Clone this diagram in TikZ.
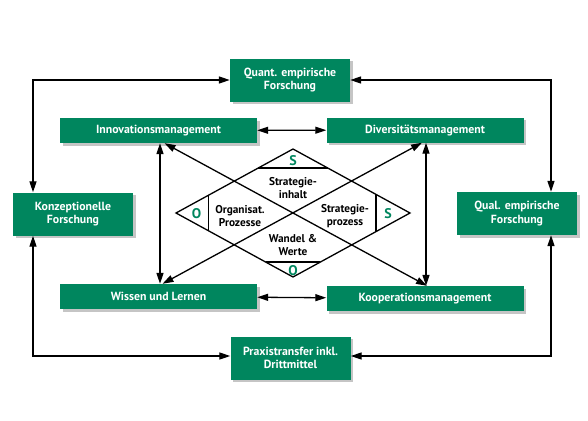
\documentclass[tikz,border=0pt]{standalone}
\usepackage{fontspec}
\setmainfont{PT Sans}
\usetikzlibrary{calc,arrows.meta,shadows}
\definecolor{boxgreen}{RGB}{0,134,94}
\tikzset{
	box/.style={fill=boxgreen, text=white, align=center, inner sep=0pt,
		font=\bfseries\fontsize{11.8}{13.5}\selectfont,
		drop shadow={shadow xshift=2.5pt, shadow yshift=-2.5pt, fill=black!45}},
	wide/.style={box, minimum width=197pt, minimum height=25pt},
	tall/.style={box, minimum width=120pt, minimum height=43pt},
	link/.style={line width=1.3pt, {Triangle[length=11pt,width=7pt]}-{Triangle[length=11pt,width=7pt]}},
	field/.style={align=center, font=\bfseries\fontsize{11.3}{12.5}\selectfont},
	letter/.style={text=boxgreen, font=\bfseries\fontsize{14}{14}\selectfont},
}

\begin{document}
\begin{tikzpicture}[x=1pt, y=-1pt]
			%%%%% START %%%%%
			\useasboundingbox (0, 0) rectangle (588, 420);
			
			\node[tall] (quant) at (290, 80) {Quant. empirische\\Forschung};
			\node[tall] (konz) at (73, 214) {Konzeptionelle\\Forschung};
			\node[tall] (qual) at (517, 213.5) {Qual. empirische\\Forschung};
			\node[tall] (praxis) at (290.5, 358) {Praxistransfer inkl.\\Drittmittel};
			
			\node[wide] (inno) at (158.5, 130.5) {Innovationsmanagement};
			\node[wide] (div) at (425, 130) {Diversitätsmanagement};
			\node[wide] (wiss) at (158.5, 296.5) {Wissen und Lernen};
			\node[wide] (koop) at (425, 298.5) {Kooperationsmanagement};
			
			% diamond
			\coordinate (dt) at (293, 149);
			\coordinate (dl) at (176, 213);
			\coordinate (dr) at (410, 213);
			\coordinate (db) at (293, 277);
			\draw[line width=1.3pt, line join=miter] (dt) -- (dr) -- (db) -- (dl) -- cycle;
			\draw[line width=1.3pt] ($(dt)!0.297!(dl)$) -- ($(dt)!0.297!(dr)$);
			\draw[line width=1.3pt] ($(db)!0.234!(dl)$) -- ($(db)!0.234!(dr)$);
			\draw[line width=1.3pt] ($(dl)!0.275!(dt)$) -- ($(dl)!0.275!(db)$);
			\draw[line width=1.3pt] ($(dr)!0.29!(dt)$) -- ($(dr)!0.29!(db)$);
			
			\node[letter] (s1) at (293, 160.5) {S};
			\node[letter] (o1) at (196.5, 214) {O};
			\node[letter] (s2) at (388, 214) {S};
			\node[letter] (o2) at (293, 270.5) {O};
			
			\node[field] (inhalt) at (293, 188) {Strategie-\\inhalt};
			\node[field] (orga) at (240, 216) {Organisat.\\Prozesse};
			\node[field] (prozess) at (345, 216) {Strategie-\\prozess};
			\node[field] (wandel) at (293, 245) {Wandel \&\\Werte};
			
			% inner links
			\draw[link] (inno) -- (div);
			\draw[link] (wiss) -- (koop);
			\draw[link] ([xshift=1.5pt]inno.south) -- ([xshift=1.5pt]wiss.north);
			\draw[link] ([xshift=1pt]div.south) -- ([xshift=1pt]koop.north);
			\draw[link] ([xshift=6pt]inno.south) -- ([xshift=2pt]koop.north);
			\draw[link] ([xshift=-3pt]div.south) -- ([xshift=4pt]wiss.north);
			
			% outer links
			\draw[link] ([xshift=-40pt]konz.north) |- (quant);
			\draw[link] ([xshift=34pt]qual.north) |- (quant);
			\draw[link] ([xshift=-40pt]konz.south) |- ([yshift=2pt]praxis.west);
			\draw[link] ([xshift=34pt]qual.south) |- ([yshift=2pt]praxis.east);
			
			%%%%% END %%%%%
\end{tikzpicture}
\end{document}
